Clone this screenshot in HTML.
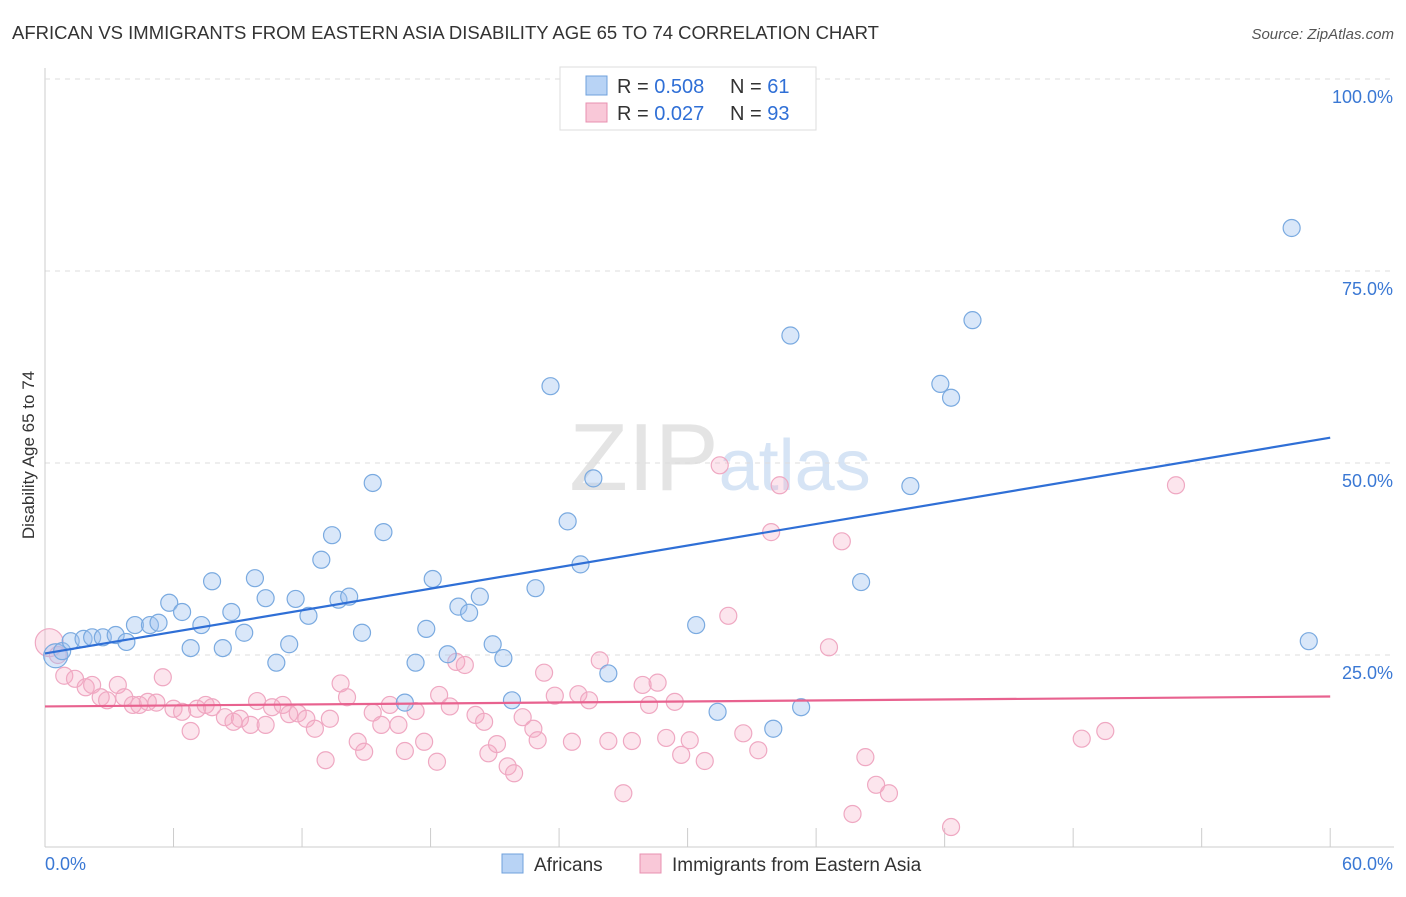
<!DOCTYPE html>
<html><head><meta charset="utf-8"><style>
body{margin:0;background:#fff;font-family:"Liberation Sans",sans-serif}
svg text{font-family:"Liberation Sans",sans-serif}
</style></head><body>
<svg id="c" width="1406" height="892">
<text x="12" y="39" font-size="18.5" fill="#333">AFRICAN VS IMMIGRANTS FROM EASTERN ASIA DISABILITY AGE 65 TO 74 CORRELATION CHART</text>
<text x="1394" y="39" font-size="15" fill="#555" font-style="italic" text-anchor="end">Source: ZipAtlas.com</text>
<text x="720" y="490" font-size="96" fill="#e4e4e4" text-anchor="middle" font-family="Liberation Serif">ZIP<tspan fill="#d6e4f5" font-family="Liberation Sans" font-size="72">atlas</tspan></text>
<text transform="translate(34,455) rotate(-90)" font-size="17" fill="#333" text-anchor="middle">Disability Age 65 to 74</text>
<g id="grid"></g><g id="pts"></g><g id="lines"></g>
<g>
<rect x="560" y="67" width="256" height="63" fill="#fff" stroke="#ddd"/>
<rect x="586" y="76" width="21" height="19" fill="#b8d3f5" stroke="#6fa0dc"/>
<rect x="586" y="103" width="21" height="19" fill="#f9c8d8" stroke="#e890b0"/>
<text x="617" y="93" font-size="20" fill="#333">R = <tspan fill="#2f6fd6">0.508</tspan></text>
<text x="730" y="93" font-size="20" fill="#333">N = <tspan fill="#2f6fd6"> 61</tspan></text>
<text x="617" y="120" font-size="20" fill="#333">R = <tspan fill="#2f6fd6"> 0.027</tspan></text>
<text x="730" y="120" font-size="20" fill="#333">N = <tspan fill="#2f6fd6">93</tspan></text>
</g>
<g>
<rect x="502" y="854" width="21" height="19" fill="#b8d3f5" stroke="#6fa0dc"/>
<text x="534" y="871" font-size="19" fill="#333">Africans</text>
<rect x="640" y="854" width="21" height="19" fill="#f9c8d8" stroke="#e890b0"/>
<text x="672" y="871" font-size="19" fill="#333">Immigrants from Eastern Asia</text>
</g>
</svg>
<script>
const blueX=[0.5,0.8,1.2,1.8,2.2,2.7,3.3,3.8,4.2,4.9,5.3,5.8,6.4,6.8,7.3,7.8,8.3,8.7,9.3,9.8,10.3,10.8,11.4,11.7,12.3,12.9,13.4,13.7,14.2,14.8,15.3,15.8,16.8,17.3,17.8,18.1,18.8,19.3,19.8,20.3,20.9,21.4,21.8,22.9,23.6,24.4,25.0,25.6,26.3,30.4,31.4,34.0,34.8,35.3,38.1,40.4,41.8,42.3,43.3,58.2,59.0];
const blueY=[24.9,25.5,26.8,27.1,27.3,27.3,27.6,26.7,28.9,28.9,29.2,31.8,30.6,25.9,28.9,34.6,25.9,30.6,27.9,35.0,32.4,24.0,26.4,32.3,30.1,37.4,40.6,32.2,32.6,27.9,47.4,41.0,18.8,24.0,28.4,34.9,25.1,31.3,30.5,32.6,26.4,24.6,19.1,33.7,60.0,42.4,36.8,48.0,22.6,28.9,17.6,15.4,66.6,18.2,34.5,47.0,60.3,58.5,68.6,80.6,26.8];
const pinkX=[0.2,0.6,0.9,1.4,1.9,2.2,2.6,2.9,3.4,3.7,4.1,4.4,4.8,5.2,5.5,6.0,6.4,6.8,7.1,7.5,7.8,8.4,8.8,9.1,9.6,9.9,10.3,10.6,11.1,11.4,11.8,12.2,12.6,13.1,13.3,13.8,14.1,14.6,14.9,15.3,15.7,16.1,16.5,16.8,17.3,17.7,18.3,18.4,18.9,19.2,19.6,20.1,20.5,20.7,21.1,21.6,21.9,22.3,22.8,23.0,23.3,23.8,24.6,24.9,25.4,25.9,26.3,27.0,27.4,27.9,28.2,28.6,29.0,29.4,29.7,30.1,30.8,31.5,31.9,32.6,33.3,34.3,33.9,36.6,37.2,37.7,38.3,38.8,39.4,42.3,48.4,49.5,52.8];
const pinkY=[26.6,25.0,22.3,21.9,20.8,21.1,19.5,19.1,21.1,19.5,18.5,18.5,18.9,18.8,22.1,18.0,17.6,15.1,18.0,18.5,18.2,16.9,16.3,16.7,15.9,19.0,15.9,18.2,18.5,17.3,17.4,16.7,15.4,11.3,16.7,21.3,19.5,13.7,12.4,17.5,15.9,18.5,15.9,12.5,17.7,13.7,11.1,19.8,18.3,24.1,23.7,17.2,16.3,12.2,13.4,10.5,9.6,16.9,15.4,13.9,22.7,19.7,13.7,19.9,19.1,24.3,13.8,7.0,13.8,21.1,18.5,21.4,14.2,18.9,12.0,13.9,11.2,49.7,30.1,14.8,12.6,47.1,41.0,26.0,39.8,4.3,11.7,8.1,7.0,2.6,14.1,15.1,47.1];
const xTicks=[0,6,12,18,24,30,36,42,48,54,60];
const yTicks=[25,50,75,100];
const blueTrend=[[0,25.2],[60,53.3]];
const pinkTrend=[[0,18.3],[60,19.6]];
const X=v=>45+v*21.42, Y=v=>847-v*7.68;
const NS='http://www.w3.org/2000/svg';
function mk(t,a,p){const e=document.createElementNS(NS,t);for(const k in a)e.setAttribute(k,a[k]);p.appendChild(e);return e;}
const g=document.getElementById('grid');
yTicks.forEach(t=>{
 const l=mk('line',{x1:45,x2:1394,y1:Y(t),y2:Y(t),stroke:'#ddd','stroke-dasharray':'5,5'},g);
 
 
 const tx=mk('text',{x:1393,y:Y(t)+24,'font-size':18,fill:'#3a78d4','text-anchor':'end'},g);
 tx.textContent=t.toFixed(1)+'%';
 
 
});
mk('line',{x1:45,x2:45,y1:68,y2:847,stroke:'#ccc'},g);
mk('line',{x1:45,x2:1394,y1:847,y2:847,stroke:'#ccc'},g);
mk('line',{x1:45,x2:1394,y1:79,y2:79,stroke:'#ddd','stroke-dasharray':'5,5'},g);
xTicks.forEach(t=>{
 const l=mk('line',{x1:X(t),x2:X(t),y1:828,y2:847,stroke:'#ccc'},g);
 
 
});
const xl=mk('text',{x:45,y:870,'font-size':18,fill:'#3a78d4'},g);xl.textContent='0.0%';


const xr=mk('text',{x:1393,y:870,'font-size':18,fill:'#3a78d4','text-anchor':'end'},g);xr.textContent='60.0%';


const p=document.getElementById('pts');
pinkX.forEach((v,i)=>{
 const c=mk('circle',{cx:X(v),cy:Y(pinkY[i]),r:i===0?14:8.5,fill:'rgba(245,170,195,0.3)',stroke:'#efa8c2','stroke-width':1.2},p);
 
 
});
blueX.forEach((v,i)=>{
 const c=mk('circle',{cx:X(v),cy:Y(blueY[i]),r:i===0?12:8.5,fill:'rgba(160,195,240,0.4)',stroke:'#7aaae0','stroke-width':1.2},p);
 
 
});
const L=document.getElementById('lines');
const bl=mk('line',{x1:X(blueTrend[0][0]),y1:Y(blueTrend[0][1]),x2:X(blueTrend[1][0]),y2:Y(blueTrend[1][1]),stroke:'#2f6fd6','stroke-width':2.2},L);


const pl=mk('line',{x1:X(pinkTrend[0][0]),y1:Y(pinkTrend[0][1]),x2:X(pinkTrend[1][0]),y2:Y(pinkTrend[1][1]),stroke:'#e8628f','stroke-width':2.2},L);


</script>
</body></html>
